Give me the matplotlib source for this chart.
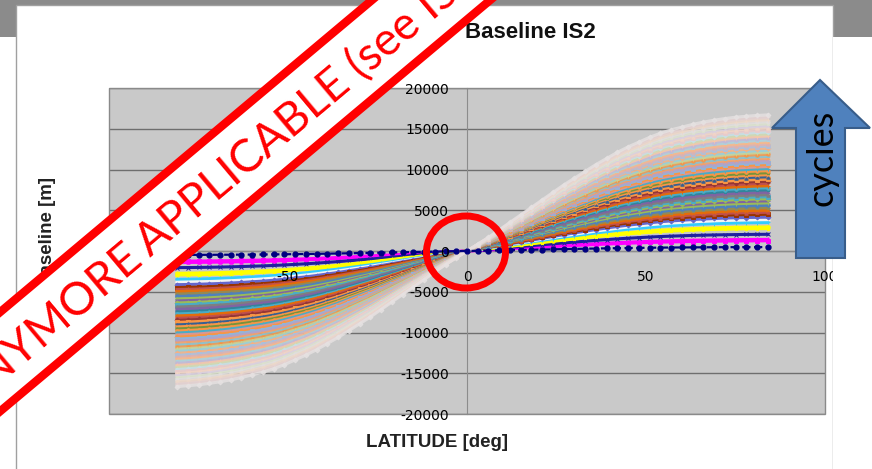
import matplotlib
matplotlib.use("Agg")
import matplotlib.pyplot as plt
from matplotlib.patches import Rectangle, Ellipse, Polygon
import numpy as np

plt.rcParams["axes.unicode_minus"] = False

# latitude samples of each pass [deg]
latitude = np.arange(-81, 85, 3)

# normalised shape of the baseline along the track
profile = [
    -0.996, -0.990, -0.983, -0.973, -0.961, -0.947, -0.930, -0.910, -0.890,
    -0.865, -0.835, -0.800, -0.765, -0.725, -0.680, -0.635, -0.585, -0.535,
    -0.485, -0.430, -0.375, -0.320, -0.265, -0.210, -0.155, -0.100, -0.050,
    0.0,
    0.050, 0.100, 0.155, 0.210, 0.265, 0.320, 0.375, 0.430, 0.485, 0.535,
    0.585, 0.635, 0.680, 0.725, 0.765, 0.800, 0.835, 0.865, 0.890, 0.910,
    0.930, 0.947, 0.961, 0.973, 0.983, 0.990, 0.996, 1.000,
]

# baseline reached at the northern end of the track, one value per cycle [m]
end_baseline = [
    480, 1250, 1420, 2050, 2750, 2950, 3500, 3850, 4150, 4500,
    4750, 5000, 5300, 5600, 5900, 6150, 6400, 6650, 6900, 7200,
    7500, 7750, 8000, 8300, 8550, 8800, 9100, 9350, 9600, 9850,
    10100, 10350, 10600, 10850, 11100, 11350, 11600, 11850, 12100, 12350,
    12600, 12850, 13100, 13350, 13600, 13850, 14100, 14350, 14600, 14850,
    15100, 15350, 15600, 15850, 16100, 16400, 16700,
]

cycle_colors = [
    "#000080", "#FF00FF", "#FF00FF", "#1F1F9F", "#FFFF00", "#FFFF00", "#33CCFF",
    "#F4F4F4", "#6666CC", "#993300", "#C0504D", "#E46C0A", "#948A54", "#4F81BD",
    "#9BBB59", "#8064A2", "#9BBB59", "#4BACC6", "#7F7F7F", "#8064A2", "#31859C",
    "#4BACC6", "#E46C0A", "#C0504D", "#953735", "#F79646", "#376092", "#F79646",
    "#77933C", "#F79646", "#4BACC6", "#DA9694", "#F79646", "#95B3D7", "#B3A2C7",
    "#FAA060", "#7FC4D8", "#F79646", "#C3D69B", "#93CDDD", "#FAB080", "#A9C0E0",
    "#E0B0AE", "#F9B888", "#A8D4E2", "#C4B8D6", "#F8C8A8", "#CEDCB2", "#C8E0EA",
    "#EACACA", "#F2D6C6", "#D8D0E2", "#DCE4CC", "#E2DEDE", "#EED8C8", "#E6D2D2",
    "#E6E2E2",
]

x_ticks = [-100, -50, 0, 50, 100]
x_tick_labels = ["-100", "-50", "0", "50", "100"]
y_ticks = [-20000, -15000, -10000, -5000, 0, 5000, 10000, 15000, 20000]
y_tick_labels = ["-20000", "-15000", "-10000", "-5000", "0",
                 "5000", "10000", "15000", "20000"]

W, H = 872, 469
fig = plt.figure(figsize=(W / 100, H / 100), dpi=100)
fig.patch.set_facecolor("white")

# slide background: grey header band and white card holding the chart
bg = fig.add_axes([0, 0, 1, 1], zorder=0)
bg.set_xlim(0, W)
bg.set_ylim(H, 0)
bg.axis("off")
bg.add_patch(Rectangle((0, 0), W, 37, color="#8b8b8b", lw=0))
bg.add_patch(Rectangle((16, 5), 817, H, facecolor="white", edgecolor="#a0a0a0", lw=1))

# chart
ax = fig.add_axes([109 / W, 1 - 414 / H, 716 / W, 326 / H], zorder=1)
ax.set_facecolor("#c9c9c9")
ax.set_xlim(-100, 100)
ax.set_ylim(-20000, 20000)

for yv in y_ticks:
    ax.axhline(yv, color="#6e6e6e", lw=1.0, zorder=1)

markers = ["D", "s", "^", "x", "*", "o", "+", "_"]
prof = np.array(profile)
n = len(end_baseline)
for i, (b, c) in enumerate(zip(end_baseline, cycle_colors)):
    if i == 0:
        ax.plot(latitude, b * prof, color=c, lw=1.6, ls="--", marker="o",
                ms=3.5, zorder=3)
    else:
        alpha = 1.0 if i < n - 22 else 0.8
        ax.plot(latitude, b * prof, color=c, lw=2.2, alpha=alpha,
                marker=markers[i % len(markers)], ms=2.5, mew=0.7,
                zorder=2 + i * 0.01)

ax.set_xticks(x_ticks)
ax.set_xticklabels(x_tick_labels)
ax.set_yticks(y_ticks)
ax.set_yticklabels(y_tick_labels)
for lab in ax.get_xticklabels() + ax.get_yticklabels():
    lab.set_fontfamily("Liberation Sans")
    lab.set_fontsize(13)
    lab.set_color("#222222")
ax.tick_params(axis="x", length=0, pad=14)
ax.tick_params(axis="y", length=0, pad=13)
# axis labels sit on top of the series
ax.xaxis.set_zorder(10)
ax.yaxis.set_zorder(10)

ax.spines["left"].set_position(("data", 0))
ax.spines["bottom"].set_position(("data", 0))
ax.spines["left"].set_color("#8c8c8c")
ax.spines["bottom"].set_color("#8c8c8c")
ax.spines["left"].set_zorder(1.5)
ax.spines["bottom"].set_zorder(1.5)
ax.spines["top"].set_visible(False)
ax.spines["right"].set_visible(False)
ax.add_patch(Rectangle((0, 0), 1, 1, transform=ax.transAxes, fill=False,
                       ec="#8a8a8a", lw=1, zorder=5, clip_on=False))

fig.text(530 / W, 1 - 33 / H, "Baseline IS2", ha="center", va="center",
         fontsize=16, fontweight="bold", family="Liberation Sans", color="#111111")
fig.text(437 / W, 1 - 442 / H, "LATITUDE [deg]", ha="center", va="center",
         fontsize=13.5, fontweight="bold", family="Liberation Sans", color="#222222")
fig.text(48 / W, 1 - 233 / H, "Baseline [m]", ha="center", va="center",
         rotation=90, fontsize=13.5, fontweight="bold", family="Liberation Sans",
         color="#222222")

# annotations drawn over the chart and its titles
ov = fig.add_axes([0, 0, 1, 1], zorder=5)
ov.set_xlim(0, W)
ov.set_ylim(H, 0)
ov.axis("off")
ov.patch.set_alpha(0)

# white strip right of the card hides the clipped axis label
ov.add_patch(Rectangle((833, 37), W - 833, H, color="white", lw=0))

# diagonal "not applicable" banner
ang = 40
ov.add_patch(Rectangle((200 - 700, 194 - 38), 1400, 76, angle=-ang,
                       rotation_point="center", facecolor="white",
                       edgecolor="#ff0000", lw=6))
ov.text(151, 258, "APPLICABLE (see IS1)", rotation=ang, rotation_mode="anchor",
        ha="left", va="baseline", fontsize=33, family="Lato", color="#ff0000")
ov.text(151 - 8 * np.cos(np.radians(ang)), 258 + 8 * np.sin(np.radians(ang)),
        "NOT ANYMORE", rotation=ang, rotation_mode="anchor",
        ha="right", va="baseline", fontsize=33, family="Lato", color="#ff0000")

# circle around the crossing point
ov.add_patch(Ellipse((466, 252), 79, 72, fill=False, ec="#ff0000", lw=5))

# arrow showing increasing cycle number
ov.add_patch(Polygon([(820, 80), (870, 128), (845, 128), (845, 258),
                      (796, 258), (796, 128), (772, 128)], closed=True,
                     facecolor="#4F81BD", edgecolor="#385D8A", lw=1.5))
ov.text(822, 158, "cycles", rotation=90, ha="center", va="center",
        fontsize=26, family="Lato", color="black")

fig.savefig("out.png", dpi=100)
